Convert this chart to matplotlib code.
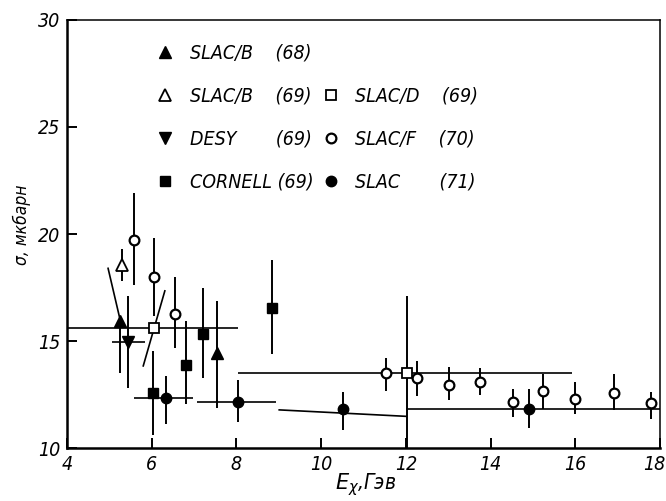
import matplotlib
matplotlib.use("Agg")
import matplotlib.pyplot as plt
from matplotlib.lines import Line2D
from matplotlib import font_manager as fm
from matplotlib.transforms import ScaledTranslation

FONT = ['DejaVu Sans']
STRETCH = 'condensed'

# ---- data -------------------------------------------------------------
# SLAC/B (68) filled up triangles
slacb68_x = [5.26, 7.53]
slacb68_y = [15.95, 14.47]
slacb68_lo = [13.5, 11.9]
slacb68_hi = [15.95, 16.88]

# SLAC/B (69) open up triangle
slacb69_x = [5.31]
slacb69_y = [18.55]
slacb69_lo = [17.8]
slacb69_hi = [19.3]

# DESY (69) filled down triangle
desy_x = [5.45]
desy_y = [14.95]
desy_lo = [12.84]
desy_hi = [17.1]
desy_xlo = [5.06]
desy_xhi = [5.84]

# CORNELL (69) filled squares
cornell_x = [6.02, 6.82, 7.22, 8.84]
cornell_y = [12.57, 13.9, 15.33, 16.57]
cornell_lo = [10.65, 12.06, 13.3, 14.39]
cornell_hi = [14.55, 15.95, 17.48, 18.8]

# SLAC/D (69) open squares
slacd_x = [6.05, 12.03]
slacd_y = [15.6, 13.5]
slacd_lo = [15.6, 10.0]
slacd_hi = [15.6, 17.1]
slacd_xlo = [4.0, 8.03]
slacd_xhi = [8.03, 15.92]

# SLAC/F (70) open circles
slacf_x = [5.59, 6.06, 6.56, 11.52, 12.27, 13.01, 13.74, 14.52, 15.24, 15.99, 16.91, 17.78]
slacf_y = [19.73, 17.98, 16.26, 13.54, 13.3, 12.96, 13.12, 12.18, 12.68, 12.29, 12.6, 12.14]
slacf_lo = [17.6, 16.2, 14.7, 12.68, 12.44, 12.24, 12.48, 11.48, 11.82, 11.6, 11.79, 11.36]
slacf_hi = [21.9, 19.8, 17.98, 14.24, 14.08, 13.82, 13.77, 12.76, 13.46, 13.1, 13.49, 12.63]

# SLAC (71) filled circles
slac71_x = [6.33, 8.03, 10.51, 14.91]
slac71_y = [12.37, 12.16, 11.82, 11.86]
slac71_lo = [11.12, 11.23, 10.86, 10.97]
slac71_hi = [13.38, 13.18, 12.65, 12.76]
slac71_xlo = [5.57, 7.06, None, 12.0]
slac71_xhi = [6.98, 8.94, None, 18.0]

# sloped segments drawn in the original
seg_slac71_x = [9.01, 12.0]
seg_slac71_y = [11.8, 11.5]
seg_slacb68_x = [4.97, 5.26]
seg_slacb68_y = [18.4, 15.95]
seg_slacd_x = [5.8, 6.31]
seg_slacd_y = [13.85, 17.35]

x_ticks = [4, 6, 8, 10, 12, 14, 16, 18]
y_ticks = [10, 15, 20, 25, 30]

legend_labels = ['SLAC/B    (68)', 'SLAC/B    (69)', 'DESY       (69)',
                 'CORNELL (69)', 'SLAC/D    (69)', 'SLAC/F    (70)',
                 'SLAC       (71)']

# ---- figure -------------------------------------------------------------
fig = plt.figure(figsize=(6.66, 5.01), dpi=100)
ax = fig.add_axes([0.1006, 0.1048, 0.8904, 0.8562])
ax.set_xlim(4, 18)
ax.set_ylim(10, 30)

LW = 1.4
K = 'black'

def vbars(xs, lo, hi):
    ax.vlines(xs, lo, hi, colors=K, lw=LW, zorder=2)

def hbars(ys, xlo, xhi):
    for y, a, b in zip(ys, xlo, xhi):
        if a is not None:
            ax.hlines(y, a, b, colors=K, lw=1.2, zorder=2)

vbars(slacb68_x, slacb68_lo, slacb68_hi)
vbars(slacb69_x, slacb69_lo, slacb69_hi)
vbars(desy_x, desy_lo, desy_hi)
hbars(desy_y, desy_xlo, desy_xhi)
vbars(cornell_x, cornell_lo, cornell_hi)
vbars(slacd_x, slacd_lo, slacd_hi)
hbars(slacd_y, slacd_xlo, slacd_xhi)
vbars(slacf_x, slacf_lo, slacf_hi)
vbars(slac71_x, slac71_lo, slac71_hi)
hbars(slac71_y, slac71_xlo, slac71_xhi)

for sx, sy in [(seg_slac71_x, seg_slac71_y), (seg_slacb68_x, seg_slacb68_y), (seg_slacd_x, seg_slacd_y)]:
    ax.plot(sx, sy, color=K, lw=1.2, zorder=2)

h1, = ax.plot(slacb68_x, slacb68_y, '^', ms=9, color=K, zorder=3)
h2, = ax.plot(slacb69_x, slacb69_y, '^', ms=8, mfc='white', mec=K, mew=1.3, zorder=3)
h3, = ax.plot(desy_x, desy_y, 'v', ms=9, color=K, zorder=3)
h4, = ax.plot(cornell_x, cornell_y, 's', ms=7, color=K, zorder=3)
h5, = ax.plot(slacd_x, slacd_y, 's', ms=7, mfc='white', mec=K, mew=1.3, zorder=3)
h6, = ax.plot(slacf_x, slacf_y, 'o', ms=7, mfc='white', mec=K, mew=1.6, zorder=3)
h7, = ax.plot(slac71_x, slac71_y, 'o', ms=7.5, color=K, zorder=3)

fp_leg = fm.FontProperties(family=FONT, style='italic', stretch=STRETCH, size=14)
fp_tick = fm.FontProperties(family=FONT, style='italic', stretch=STRETCH, size=14)
fp_xlab = fm.FontProperties(family=FONT, style='italic', stretch=STRETCH, size=15)
fp_ylab = fm.FontProperties(family=FONT, style='italic', stretch=STRETCH, size=12.5)

blank = Line2D([], [], linestyle='none', marker=None)
handles = [h1, h2, h3, h4, blank, h5, h6, h7]
labels = legend_labels[:4] + [''] + legend_labels[4:]
leg = ax.legend(handles, labels, ncol=2, frameon=False, loc='upper left',
                bbox_to_anchor=(0.12, 0.985), handlelength=1.0, handletextpad=0.75,
                columnspacing=0.4, labelspacing=1.24, prop=fp_leg)

ax.set_xticks(x_ticks)
ax.set_yticks(y_ticks)
ax.set_xticklabels([str(t) for t in x_ticks])
ax.set_yticklabels([str(t) for t in y_ticks])
ax.tick_params(direction='in', length=7, width=1.4, pad=5)
for lab in ax.get_xticklabels() + ax.get_yticklabels():
    lab.set_fontproperties(fp_tick)
last = ax.get_xticklabels()[-1]
last.set_transform(last.get_transform() + ScaledTranslation(-6 / 100, 0, fig.dpi_scale_trans))

for s in ['left', 'bottom']:
    ax.spines[s].set_linewidth(1.8)
for s in ['top', 'right']:
    ax.spines[s].set_linewidth(1.1)

fig.text(22 / 666, 1 - 225 / 501, 'σ, мкбарн', fontproperties=fp_ylab,
         rotation=90, ha='center', va='center')
fig.text(0.5495, 0.024, r'$E_{\chi}$,Гэв', fontproperties=fp_xlab, ha='center', va='baseline')

fig.savefig('out.png', dpi=100)
